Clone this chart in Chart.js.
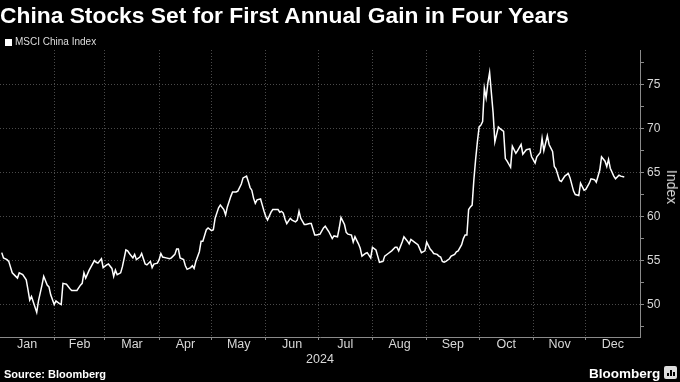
<!DOCTYPE html>
<html>
<head>
<meta charset="utf-8">
<script src="https://cdn.jsdelivr.net/npm/chart.js@4.4.1/dist/chart.umd.min.js"></script>
<style>
html,body{margin:0;padding:0;background:#000;}
#wrap{position:relative;width:680px;height:382px;background:#000;overflow:hidden;font-family:"Liberation Sans",Arial,sans-serif;color:#fff;}
#title{position:absolute;left:0;top:4px;font-weight:bold;font-size:22.8px;line-height:22.8px;white-space:nowrap;}
#legend{position:absolute;left:5px;top:36px;font-size:10px;line-height:12px;color:#ddd;display:flex;align-items:center;white-space:nowrap;}
#legend .sw{width:7px;height:7px;background:#fff;margin-right:3px;}
#source{position:absolute;left:4px;top:368px;font-size:11px;line-height:13px;font-weight:bold;white-space:nowrap;}
#brand{position:absolute;left:589px;top:366px;font-size:13.5px;line-height:15px;font-weight:bold;white-space:nowrap;}
#icon{position:absolute;left:664px;top:366px;width:13px;height:13px;background:#ddd;border-radius:2px;}
#icon span{position:absolute;bottom:3px;width:2px;background:#000;}
#ytitle{position:absolute;left:672px;top:187px;width:0;height:0;}
#ytitle span{position:absolute;left:0;top:0;transform:translate(-50%,-50%) rotate(90deg);font-size:14px;line-height:16px;color:#d8d8d8;white-space:nowrap;}
canvas{position:absolute;left:0;top:0;}
</style>
</head>
<body>
<div id="wrap">
  <canvas id="c" width="680" height="382"></canvas>
  <div id="title">China Stocks Set for First Annual Gain in Four Years</div>
  <div id="legend"><div class="sw"></div><span id="legendText"></span></div>
  <div id="ytitle"><span id="yTitleText"></span></div>
  <div id="source">Source: Bloomberg</div>
  <div id="brand">Bloomberg</div>
  <div id="icon"><span style="left:3px;height:3px"></span><span style="left:6px;height:6px"></span><span style="left:9px;height:4px"></span></div>
</div>
<script>
// ---- data ----
const seriesName = 'MSCI China Index';
const yearLabel = '2024';
const axisTitle = 'Index';
const monthNames = ['Jan','Feb','Mar','Apr','May','Jun','Jul','Aug','Sep','Oct','Nov','Dec'];
const monthStartDays = [0,31,60,91,121,152,182,213,244,274,305,335,366];
const yTickValues = [47.5,50,52.5,55,57.5,60,62.5,65,67.5,70,72.5,75,77.5];
const yMin = 46.3, yMax = 78.95;

// day of year (0 = Jan 1, 2024)
const dayOfYear = [
  1,2,4,5,7,9,10,11,13,15,
  16,17,18,19,21,22,24,25,27,28,
  29,31,32,34,35,36,38,40,41,44,
  46,47,48,49,51,54,55,56,58,59,
  61,62,64,65,66,67,69,70,72,73,
  74,76,77,78,80,81,83,84,86,87,
  88,90,91,92,93,95,97,98,100,101,
  102,103,105,106,107,109,110,111,112,114,
  115,116,118,119,121,122,123,125,126,128,
  129,130,132,133,135,136,138,139,141,142,
  143,144,145,146,147,149,150,151,152,153,
  155,156,159,160,161,162,163,164,166,167,
  169,170,171,172,174,175,177,178,180,181,
  183,185,186,188,189,190,191,193,194,195,
  197,198,199,201,202,203,205,206,207,209,
  210,212,213,215,216,217,219,220,222,224,
  226,227,228,230,231,233,234,235,237,239,
  241,243,244,246,247,248,250,251,252,253,
  254,255,257,258,260,261,262,264,265,266,
  267,268,269,270,271,272,273,274,275,276,
  277,278,279,280,282,283,285,286,288,289,
  290,292,293,295,296,298,299,301,303,304,
  306,307,309,310,311,313,314,316,317,318,
  320,321,323,325,326,328,329,331,332,334,
  335,337,338,340,341,343,344,346,347,348,
  349,351,352,354,355,357
];
const msciChina = [
  55.9,55.3,55.1,54.9,53.6,53.2,53.0,53.6,53.4,52.8,
  51.7,50.5,50.9,50.3,49.1,50.4,52.2,53.2,52.2,52.0,
  51.1,50.0,50.4,50.1,50.0,52.4,52.3,51.8,51.6,51.6,
  52.2,52.4,53.6,53.0,53.9,55.0,54.8,54.7,55.2,54.2,
  54.5,54.6,54.1,53.2,53.9,53.4,53.6,54.3,56.2,56.1,
  55.8,55.3,55.7,55.1,55.4,55.8,54.6,54.5,54.9,54.2,
  54.6,54.7,55.1,55.8,55.4,55.3,55.2,55.3,55.7,56.3,
  56.3,55.3,55.1,54.4,54.0,54.2,54.4,54.1,54.9,56.0,
  57.2,57.2,58.5,58.7,58.4,58.5,59.8,61.0,61.3,60.8,
  60.2,61.1,62.3,62.8,62.8,62.9,63.7,64.4,64.6,64.0,
  63.3,63.0,62.1,61.5,61.9,62.0,61.3,60.6,60.0,59.6,
  60.5,60.8,60.8,60.5,60.6,60.4,59.7,59.2,59.8,59.6,
  59.4,59.6,60.6,59.8,59.1,59.1,59.2,59.2,57.9,57.9,
  58.0,58.7,58.9,58.3,57.9,57.5,57.8,57.7,58.7,59.9,
  59.1,58.2,58.0,57.9,57.1,57.7,56.9,56.4,55.5,55.8,
  55.9,55.3,56.5,56.2,55.5,54.8,54.9,55.5,55.8,56.1,
  56.5,56.5,56.1,57.1,57.7,57.2,56.9,57.4,57.1,56.8,
  55.9,56.1,57.1,56.3,56.1,55.8,55.7,55.5,55.4,54.9,
  54.8,54.9,55.2,55.5,55.7,56.0,56.1,56.8,57.5,57.9,
  57.9,60.8,61.1,61.3,64.2,66.5,68.5,70.2,70.4,70.8,
  74.6,73.5,75.2,76.4,71.8,68.5,70.2,70.0,69.7,66.6,
  66.3,65.6,68.0,67.2,67.5,68.2,67.1,67.6,67.7,66.8,
  66.1,66.8,67.3,68.9,67.5,69.2,68.2,67.4,65.7,65.4,
  64.1,64.0,64.6,64.9,64.4,62.9,62.5,62.4,63.8,63.0,
  63.1,63.8,64.3,64.2,63.9,65.3,66.8,66.3,65.7,66.5,
  65.5,64.6,64.3,64.7,64.6,64.5
];

// ---- derived ----
document.getElementById('legendText').textContent = seriesName;
document.getElementById('yTitleText').textContent = axisTitle;
const points = dayOfYear.map((d, i) => ({x: d, y: msciChina[i]}));
const boundaryDays = monthStartDays.slice(1, -1);
const midDays = monthNames.map((m, i) => (monthStartDays[i] + monthStartDays[i + 1]) / 2);
const midLabel = new Map(midDays.map((d, i) => [d, monthNames[i]]));
const isBoundary = v => boundaryDays.includes(v);
const xTickValues = [...boundaryDays, ...midDays].sort((a, b) => a - b);

const gridCol = '#4a4a4a';
const axisCol = '#8a8a8a';
const labelCol = '#d8d8d8';

new Chart(document.getElementById('c'), {
  type: 'line',
  data: {
    datasets: [{
      label: seriesName,
      data: points,
      borderColor: '#ffffff',
      borderWidth: 1.5,
      pointRadius: 0,
      tension: 0,
      fill: false
    }]
  },
  options: {
    responsive: false,
    animation: false,
    events: [],
    layout: {padding: {top: 50, bottom: 15, left: 0, right: 0}},
    plugins: {legend: {display: false}, tooltip: {enabled: false}},
    scales: {
      x: {
        type: 'linear',
        min: 0,
        max: 366,
        afterBuildTicks: s => { s.ticks = xTickValues.map(v => ({value: v})); },
        afterFit: s => { s.height = 30; },
        ticks: {
          autoSkip: false,
          maxRotation: 0,
          minRotation: 0,
          padding: -3,
          color: labelCol,
          font: {family: 'Liberation Sans', size: 12.5},
          callback: v => midLabel.has(v) ? midLabel.get(v) : ''
        },
        grid: {
          color: c => (c.tick && isBoundary(c.tick.value)) ? gridCol : 'rgba(0,0,0,0)',
          tickColor: c => (c.tick && isBoundary(c.tick.value)) ? axisCol : 'rgba(0,0,0,0)',
          tickLength: 3,
          lineWidth: 1
        },
        border: {display: true, color: axisCol, width: 1, dash: [1, 2]},
        title: {
          display: true,
          text: yearLabel,
          color: labelCol,
          font: {family: 'Liberation Sans', size: 12.5},
          padding: {top: 0, bottom: 0}
        }
      },
      y: {
        type: 'linear',
        position: 'right',
        min: yMin,
        max: yMax,
        afterBuildTicks: s => { s.ticks = yTickValues.map(v => ({value: v})); },
        afterFit: s => { s.width = 40; },
        ticks: {
          padding: 3,
          color: labelCol,
          font: {family: 'Liberation Sans', size: 12},
          callback: v => (v % 5 === 0) ? String(v) : ''
        },
        grid: {
          color: c => (c.tick && c.tick.value % 5 === 0) ? gridCol : 'rgba(0,0,0,0)',
          tickColor: axisCol,
          tickLength: 4,
          lineWidth: 1
        },
        border: {display: true, color: axisCol, width: 1, dash: [1, 2]},
        title: {display: false}
      }
    }
  }
});
</script>
</body>
</html>
